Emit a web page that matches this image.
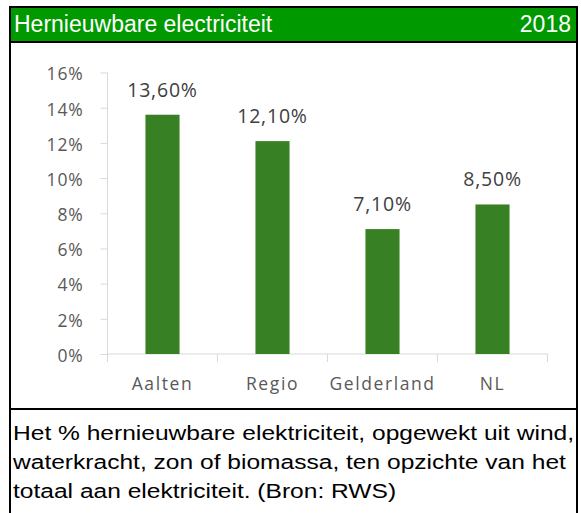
<!DOCTYPE html>
<html>
<head>
<meta charset="utf-8">
<script src="https://cdn.jsdelivr.net/npm/d3@7"></script>
<style>
  html, body { margin: 0; padding: 0; background: #fff; }
  svg { display: block; }
</style>
</head>
<body>
<div class="svg-container"></div>
<script>
;(function init() {
  const width = 581
  const height = 513

  const categories = ['Aalten', 'Regio', 'Gelderland', 'NL']
  const values = [13.6, 12.1, 7.1, 8.5]
  const valueLabels = ['13,60%', '12,10%', '7,10%', '8,50%']
  const yTicks = [0, 2, 4, 6, 8, 10, 12, 14, 16]
  const title = 'Hernieuwbare electriciteit'
  const year = '2018'
  const footerLines = [
    'Het % hernieuwbare elektriciteit, opgewekt uit wind,',
    'waterkracht, zon of biomassa, ten opzichte van het',
    'totaal aan elektriciteit. (Bron: RWS)'
  ]

  const plot = { left: 107.5, right: 547.5, top: 72.5, bottom: 354 }
  const axisColor = '#d9d9d9'
  const labelColor = '#595959'
  const barColor = '#378124'
  const labelFont = '"Open Sans", "Noto Sans", sans-serif'
  const boxFont = 'Arial, "Liberation Sans", sans-serif'

  const svg = d3
    .select('.svg-container')
    .append('svg')
    .attr('width', width)
    .attr('height', height)

  // header band
  svg
    .append('rect')
    .attr('x', 10)
    .attr('y', 7)
    .attr('width', 567)
    .attr('height', 35)
    .attr('fill', '#009900')

  svg
    .append('text')
    .attr('x', 14)
    .attr('y', 32)
    .attr('fill', '#fff')
    .attr('font-family', boxFont)
    .attr('font-size', 23)
    .text(title)

  svg
    .append('text')
    .attr('x', 571)
    .attr('y', 32)
    .attr('text-anchor', 'end')
    .attr('fill', '#fff')
    .attr('font-family', boxFont)
    .attr('font-size', 23)
    .text(year)

  const xScale = d3
    .scaleBand()
    .domain(categories)
    .range([plot.left, plot.right])

  const yScale = d3
    .scaleLinear()
    .domain([0, 16])
    .range([plot.bottom, plot.top])

  const barWidth = xScale.bandwidth() * 0.31

  const yAxis = d3
    .axisLeft(yScale)
    .tickValues(yTicks)
    .tickSize(7)
    .tickPadding(17)
    .tickFormat((d) => d + '%')

  const gy = svg
    .append('g')
    .attr('transform', 'translate(' + plot.left + ',0)')
    .call(yAxis)
  gy.select('.domain').attr('stroke', axisColor).attr('d', 'M0,' + plot.top + 'V' + plot.bottom)
  gy.selectAll('.tick line').attr('stroke', axisColor)
  gy.selectAll('.tick text')
    .attr('fill', labelColor)
    .attr('font-family', labelFont)
    .attr('font-size', 17.5)
    .attr('letter-spacing', 0.8)
    .attr('dy', '0.42em')

  const xAxis = d3
    .axisBottom(xScale)
    .tickSize(0)
    .tickPadding(24)

  const gx = svg
    .append('g')
    .attr('transform', 'translate(0,' + plot.bottom + ')')
    .call(xAxis)
  gx.select('.domain').attr('stroke', axisColor).attr('d', 'M' + plot.left + ',0H' + plot.right)
  gx.selectAll('.tick text')
    .attr('fill', labelColor)
    .attr('font-family', labelFont)
    .attr('font-size', 17.5)
    .attr('letter-spacing', 1.6)

  // category separators
  gx.selectAll('.sep')
    .data(categories.concat(['end']))
    .enter()
    .append('line')
    .attr('x1', (d, i) => plot.left + i * xScale.step())
    .attr('x2', (d, i) => plot.left + i * xScale.step())
    .attr('y1', 0)
    .attr('y2', 8)
    .attr('stroke', axisColor)

  svg
    .selectAll('rect.bar')
    .data(values)
    .enter()
    .append('rect')
    .attr('class', 'bar')
    .attr('x', (d, i) => xScale(categories[i]) + (xScale.bandwidth() - barWidth) / 2)
    .attr('y', (d) => yScale(d))
    .attr('width', barWidth)
    .attr('height', (d) => yScale(0) - yScale(d))
    .attr('fill', barColor)

  svg
    .selectAll('text.val')
    .data(values)
    .enter()
    .append('text')
    .attr('class', 'val')
    .attr('x', (d, i) => xScale(categories[i]) + xScale.bandwidth() / 2)
    .attr('y', (d) => yScale(d) - 18)
    .attr('text-anchor', 'middle')
    .attr('fill', '#404040')
    .attr('font-family', labelFont)
    .attr('font-size', 19.5)
    .attr('letter-spacing', 0.8)
    .text((d, i) => valueLabels[i])

  // footer, glyphs a bit wider than plain Arial
  svg
    .append('g')
    .attr('transform', 'translate(13,0) scale(1.17,1)')
    .selectAll('text.foot')
    .data(footerLines)
    .enter()
    .append('text')
    .attr('class', 'foot')
    .attr('x', 0)
    .attr('y', (d, i) => 440 + i * 29)
    .attr('fill', '#000')
    .attr('font-family', boxFont)
    .attr('font-size', 21)
    .text((d) => d)

  svg
    .append('line')
    .attr('x1', 10)
    .attr('x2', 577)
    .attr('y1', 42)
    .attr('y2', 42)
    .attr('stroke', '#000')
    .attr('stroke-width', 2)

  svg
    .append('line')
    .attr('x1', 10)
    .attr('x2', 577)
    .attr('y1', 409)
    .attr('y2', 409)
    .attr('stroke', '#000')
    .attr('stroke-width', 2)

  // outer frame
  svg
    .append('rect')
    .attr('x', 10)
    .attr('y', 7)
    .attr('width', 567)
    .attr('height', 520)
    .attr('fill', 'none')
    .attr('stroke', '#000')
    .attr('stroke-width', 2)
})()
</script>
</body>
</html>
